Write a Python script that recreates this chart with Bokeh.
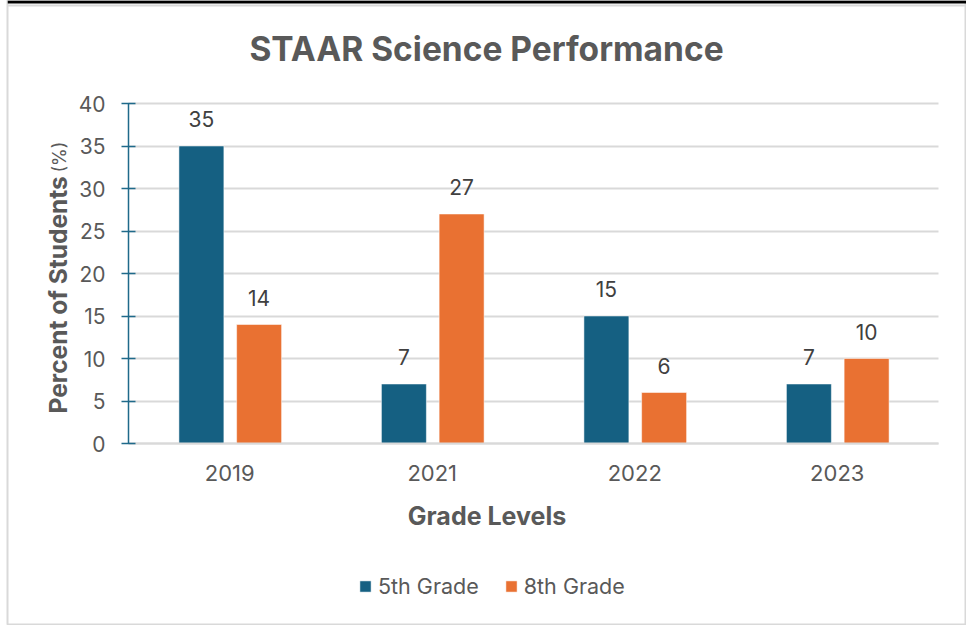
from bokeh.plotting import figure
from bokeh.models import (ColumnDataSource, Range1d, Label, LabelSet,
                          Legend, LegendItem, FixedTicker, Span)
from bokeh.core.properties import value
from bokeh.transform import dodge
from bokeh.embed import file_html
from bokeh.resources import INLINE
import math

# ---- data ----
years = ["2019", "2021", "2022", "2023"]
grade5 = [35, 7, 15, 7]
grade8 = [14, 27, 6, 10]
series_names = ["5th Grade", "8th Grade"]
title_text = "STAAR Science Performance"
y_title = "Percent of Students"
y_title_unit = "(%)"
x_title = "Grade Levels"
y_ticks = [0, 5, 10, 15, 20, 25, 30, 35, 40]

FONT = "Inter"
BLUE = "#156082"
ORANGE = "#E97132"
GRID = "#D9D9D9"
AXIS = "#1F6A8A"
TXT = "#595959"

# layout (pixels)
W, H = 966, 625
FL, FT = 7, 0            # figure border box offset
PL, PR = 128, 938        # plot area left/right
PT, PB = 103, 443        # plot area top/bottom (y=40 / y=0)
ymax = 40
xpx = (PR - PL) / len(years)
ypx = (PB - PT) / ymax

xpos = [i + 1 for i in range(len(years))]
src = ColumnDataSource(dict(x=xpos, g5=grade5, g8=grade8,
                            g5s=[str(v) for v in grade5],
                            g8s=[str(v) for v in grade8]))


def X(px):
    return 0.5 + (px - PL) / xpx


def Y(py):
    return (PB - py) / ypx


p = figure(width=W, height=H, x_range=Range1d(X(FL), X(W)),
           y_range=Range1d(Y(H), Y(FT)),
           output_backend="svg", toolbar_location=None,
           min_border_left=FL, min_border_right=0, min_border_top=FT,
           min_border_bottom=0)
p.outline_line_color = GRID
p.outline_line_width = 2
p.background_fill_color = "white"
p.border_fill_color = "white"

# top rules
p.add_layout(Span(location=Y(5), dimension="width", line_color=GRID, line_width=2))
p.add_layout(Span(location=Y(1.5), dimension="width", line_color="black", line_width=3))

# grid
p.xgrid.grid_line_color = None
p.ygrid.grid_line_color = GRID
p.ygrid.grid_line_width = 2
p.ygrid.bounds = (0, ymax)
p.ygrid.cross_bounds = (0.5, len(years) + 0.5)

r5 = p.vbar(x=dodge("x", -0.14), top="g5", width=0.222,
            source=src, fill_color=BLUE, line_color="white", line_width=0.5)
r8 = p.vbar(x=dodge("x", 0.145), top="g8", width=0.222,
            source=src, fill_color=ORANGE, line_color="white", line_width=0.5)

# data labels
for col, off in (("g5", -0.14), ("g8", 0.145)):
    ls = LabelSet(x=dodge("x", off), y=col, text=col + "s",
                  source=src, text_align="center", text_baseline="bottom",
                  y_offset=19, text_font=value(FONT), text_font_size="21px",
                  text_color="#404040")
    p.add_layout(ls)

# axes
p.yaxis.fixed_location = 0.5
p.yaxis.bounds = (0, ymax)
p.yaxis.ticker = FixedTicker(ticks=y_ticks)
p.yaxis.axis_line_color = AXIS
p.yaxis.axis_line_width = 1.5
p.yaxis.major_tick_line_color = AXIS
p.yaxis.major_tick_line_width = 1.5
p.yaxis.major_tick_in = 7
p.yaxis.major_tick_out = 7
p.yaxis.minor_tick_line_color = None
p.yaxis.major_label_text_font = FONT
p.yaxis.major_label_text_font_size = "21px"
p.yaxis.major_label_text_color = TXT
p.yaxis.major_label_standoff = 16

p.xaxis.fixed_location = 0
p.xaxis.bounds = (0.5, len(years) + 0.5)
p.xaxis.ticker = FixedTicker(ticks=xpos)
p.xaxis.major_label_overrides = {xv: yr for xv, yr in zip(xpos, years)}
p.xaxis.axis_line_color = GRID
p.xaxis.axis_line_width = 2
p.xaxis.major_tick_line_color = None
p.xaxis.minor_tick_line_color = None
p.xaxis.major_label_text_font = FONT
p.xaxis.major_label_text_font_size = "22px"
p.xaxis.major_label_text_color = TXT
p.xaxis.major_label_standoff = 15

# title
p.add_layout(Label(x=X(486), y=Y(48.5), text=title_text, text_align="center",
                   text_baseline="middle", text_font=FONT, text_font_size="33.5px",
                   text_font_style="bold", text_color=TXT))
# x title
p.add_layout(Label(x=X(486.5), y=Y(515), text=x_title, text_align="center",
                   text_baseline="middle", text_font=FONT, text_font_size="25px",
                   text_font_style="bold", text_color=TXT))
# y title
p.add_layout(Label(x=X(57), y=Y(413), text=y_title, angle=math.pi / 2,
                   text_align="left", text_baseline="middle", text_font=FONT,
                   text_font_size="24.5px", text_font_style="bold", text_color=TXT))
p.add_layout(Label(x=X(58.5), y=Y(172), text=y_title_unit, angle=math.pi / 2,
                   text_align="left", text_baseline="middle", text_font=FONT,
                   text_font_size="18px", text_color=TXT))

# legend
legend = Legend(items=[LegendItem(label=series_names[0], renderers=[r5]),
                       LegendItem(label=series_names[1], renderers=[r8])],
                orientation="horizontal", location=(358 - FL, H - 599),
                label_text_font=FONT, label_text_font_size="21.5px",
                label_text_color=TXT, glyph_width=14, glyph_height=14,
                label_standoff=6, spacing=25, padding=0, margin=0,
                border_line_alpha=0, background_fill_alpha=0)
p.add_layout(legend, "center")

open("out.html", "w").write(file_html(p, INLINE))
